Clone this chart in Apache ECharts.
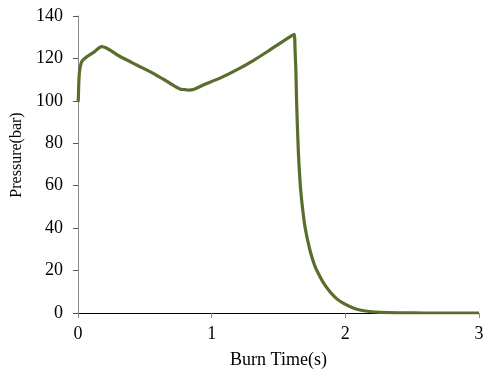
<!DOCTYPE html>
<html>
<head>
<meta charset="utf-8">
<script src="https://cdn.jsdelivr.net/npm/echarts@6/dist/echarts.min.js"></script>
<style>html,body{margin:0;padding:0;background:#fff}#c{width:485px;height:372px}</style>
</head>
<body>
<div id="c"></div>
<script>
var burnTime = [0, 0.002, 0.01, 0.028, 0.06, 0.12, 0.177, 0.314, 0.439, 0.563, 0.688, 0.763, 0.80, 0.825, 0.87, 0.937, 1.062, 1.187, 1.311, 1.436, 1.561, 1.61, 1.618, 1.625, 1.63, 1.635, 1.648, 1.66, 1.673, 1.698, 1.735, 1.77, 1.797, 1.84, 1.885, 1.93, 1.984, 2.05, 2.109, 2.18, 2.26, 2.4, 2.6, 2.8, 3.0];
var pressure = [99.5, 100.5, 113, 118.5, 120.5, 123, 125.6, 120.9, 116.9, 113, 108.3, 105.6, 105.3, 105.1, 105.5, 107.5, 110.7, 114.6, 119, 124, 129.2, 131.1, 131.3, 122, 114.6, 100.4, 76.8, 63, 53.3, 40.7, 29.7, 22.5, 18.7, 13.8, 10.0, 7, 4.6, 2.6, 1.4, 0.7, 0.3, 0.1, 0, 0, 0];
var xTicks = [0, 1, 2, 3];
var yTicks = [0, 20, 40, 60, 80, 100, 120, 140];

var data = burnTime.map(function (t, i) { return [t, pressure[i]]; });
var chart = echarts.init(document.getElementById('c'));
var font = 'Liberation Serif';
chart.setOption({
  animation: false,
  grid: { left: 78, right: 6, top: 16, bottom: 59, containLabel: false, outerBoundsMode: 'none' },
  xAxis: {
    type: 'value', min: xTicks[0], max: xTicks[xTicks.length - 1], interval: 1,
    name: 'Burn Time(s)', nameLocation: 'middle', nameGap: 38,
    nameTextStyle: { fontFamily: font, fontSize: 18, color: '#000' },
    axisLine: { show: true, lineStyle: { color: '#000', width: 1 } },
    axisTick: { show: true, length: 5, lineStyle: { color: '#888' } },
    axisLabel: { fontFamily: font, fontSize: 18, color: '#000', margin: 12 },
    splitLine: { show: false }
  },
  yAxis: {
    type: 'value', min: yTicks[0], max: yTicks[yTicks.length - 1], interval: 20,
    name: 'Pressure(bar)', nameLocation: 'middle', nameGap: 45,
    nameTextStyle: { fontFamily: font, fontSize: 16, color: '#000', padding: [0, 0, 0, 19] },
    axisLine: { show: true, lineStyle: { color: '#888', width: 1 } },
    axisTick: { show: true, length: 5, lineStyle: { color: '#555' } },
    axisLabel: { fontFamily: font, fontSize: 18, color: '#000', margin: 15 },
    splitLine: { show: false }
  },
  series: [{
    type: 'line', data: data, showSymbol: false, smooth: 0.3,
    lineStyle: { color: '#596e2c', width: 3.2 },
    itemStyle: { color: '#596e2c' }
  }]
});
</script>
</body>
</html>
